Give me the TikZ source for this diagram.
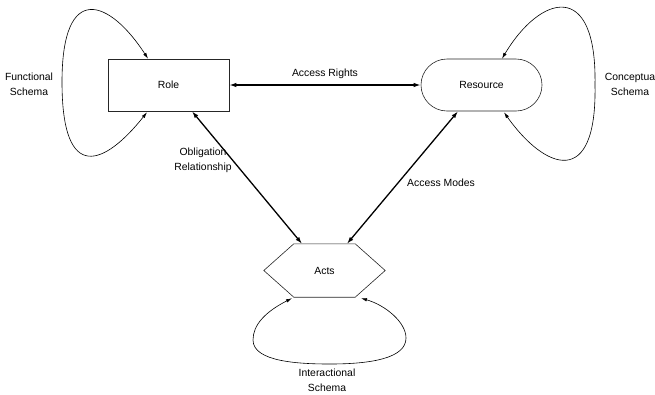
\documentclass[tikz,border=0pt]{standalone}
\usepackage{fontspec}
\setmainfont{Liberation Sans}
\usetikzlibrary{arrows.meta,shapes.misc}
\begin{document}
\begin{tikzpicture}[x=1pt,y=-1pt,
  font=\fontsize{10.4}{15}\selectfont,
  entity/.style={draw=black!85,line width=0.6pt,minimum width=121pt,minimum height=52pt,inner sep=0pt},
  relation/.style={line width=1.3pt,{Latex[length=7pt,width=4.5pt]}-{Latex[length=7pt,width=4.5pt]}},
  schema/.style={line width=0.6pt,{Latex[length=6pt,width=3.5pt]}-{Latex[length=6pt,width=3.5pt]}},
  lbl/.style={align=center,inner sep=0pt}]
\useasboundingbox (0,0) rectangle (655,394);
\clip (0,0) rectangle (655,394);

% entities
\node[entity] (role) at (168.5,85) {Role};
\node[entity,rounded rectangle] (res) at (481.5,85) {Resource};
\node[inner sep=0pt,minimum width=121pt,minimum height=53pt] (acts) at (324.5,270.5) {Acts};
\draw[line width=0.6pt,draw=black!85]
  (acts.west) -- ([xshift=30pt]acts.north west) -- ([xshift=-30pt]acts.north east)
  -- (acts.east) -- ([xshift=-30pt]acts.south east) -- ([xshift=30pt]acts.south west) -- cycle;

% relations between entities
\draw[relation] (role.east) -- (res.west);
\draw[relation] ([xshift=23.5pt]role.south) -- ([xshift=-22.5pt]acts.north);
\draw[relation] ([xshift=-23.5pt]res.south) -- ([xshift=22.5pt]acts.north);

\node[lbl] (lrights) at (325,74) {Access Rights};
\node[lbl] (lobl) at (203,160) {Obligation\\Relationship};
\node[lbl] (lmodes) at (441,183) {Access Modes};

% schema loops
\draw[schema] ([xshift=-20.5pt]role.north)
  .. controls (110,0) and (62,-20) .. (62,82)
  .. controls (62,185) and (105,165) .. ([xshift=-21.5pt,yshift=-1pt]role.south);
\draw[schema] ([xshift=20.5pt]res.north)
  .. controls (540,-5) and (597,-22) .. (595,85)
  .. controls (597,190) and (545,170) .. ([xshift=22.5pt,yshift=-1pt]res.south);
\draw[schema] ([xshift=-32.5pt,yshift=-1pt]acts.south)
  .. controls (265,312) and (253,325) .. (253,340)
  .. controls (253,362) and (300,364) .. (330,364)
  .. controls (372,364) and (406,358) .. (406,338)
  .. controls (406,322) and (385,305) .. ([xshift=36.5pt,yshift=-1pt]acts.south);

\node[lbl] (lfun) at (29,84) {Functional\\Schema};
\node[lbl] (lcon) at (630,84) {Conceptua\\Schema};
\node[lbl] (lint) at (327,380) {Interactional\\Schema};
\end{tikzpicture}
\end{document}
